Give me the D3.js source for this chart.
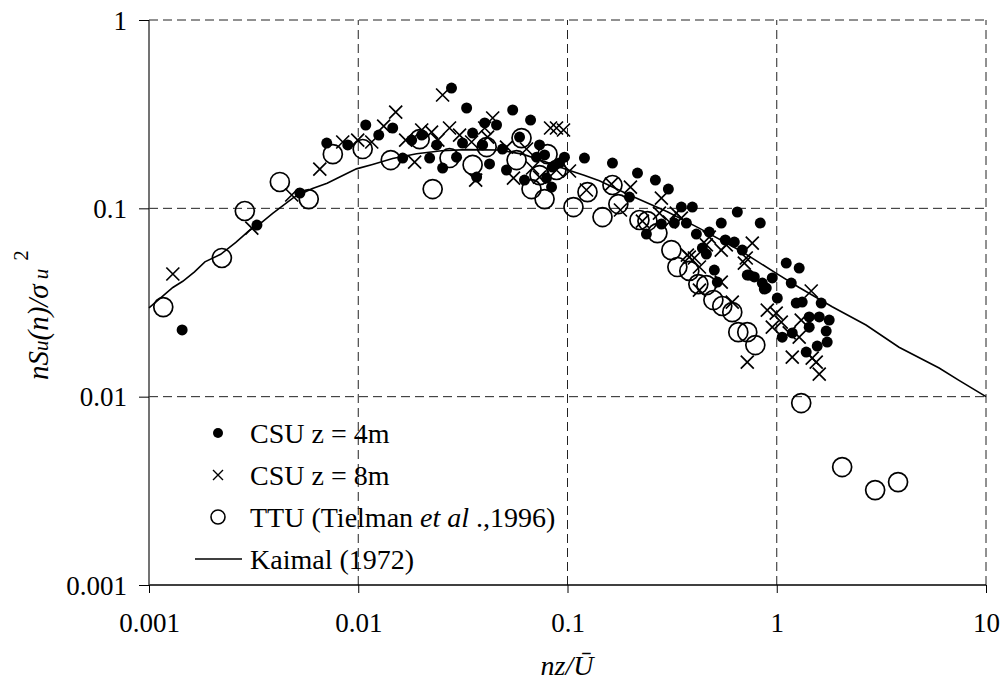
<!DOCTYPE html>
<html>
<head>
<meta charset="utf-8">
<script src="https://cdn.jsdelivr.net/npm/d3@7"></script>
<style>
  html, body { margin: 0; padding: 0; background: #fff; }
  svg { display: block; }
  text { font-family: "Liberation Serif", "Times New Roman", serif; fill: #000; }
</style>
</head>
<body>
<svg id="chart" width="1007" height="684"></svg>
<script>
// Normalized longitudinal velocity spectra vs. reduced frequency nz/U
const xTicks = [0.001, 0.01, 0.1, 1, 10];
const yTicks = [0.001, 0.01, 0.1, 1];
const xTickLabels = ["0.001", "0.01", "0.1", "1", "10"];
const yTickLabels = ["0.001", "0.01", "0.1", "1"];

// CSU z = 4m  [nz/U, nSu/σu²]
const csu4m = [
  [0.00144,0.0226],[0.00328,0.0815],[0.00526,0.1206],[0.00707,0.222],[0.00891,0.217],
  [0.01086,0.277],[0.01253,0.245],[0.01461,0.267],[0.01631,0.185],[0.0180,0.2305],
  [0.0201,0.245],[0.02194,0.185],[0.0237,0.217],[0.0253,0.1637],[0.0279,0.435],
  [0.0295,0.187],[0.0315,0.222],[0.03296,0.341],[0.0352,0.251],[0.0368,0.1466],
  [0.0402,0.284],[0.0458,0.277],[0.0393,0.217],[0.0424,0.172],[0.0489,0.2065],
  [0.0511,0.1598],[0.0547,0.3327],[0.059,0.239],[0.0623,0.1413],[0.0666,0.2944],
  [0.0735,0.217],[0.0711,0.187],[0.0777,0.192],[0.0848,0.1657],[0.0794,0.1448],
  [0.0839,0.1297],[0.0916,0.174],[0.0967,0.187],[0.1205,0.185],[0.164,0.174],
  [0.216,0.154],[0.263,0.1413],[0.3034,0.1266],[0.350,0.1016],[0.395,0.1016],
  [0.1977,0.1148],[0.2383,0.073],[0.281,0.0825],[0.324,0.0835],[0.370,0.0835],
  [0.413,0.073],[0.648,0.0956],[0.543,0.0835],[0.834,0.0835],[0.476,0.0748],
  [0.441,0.0615],[0.461,0.0572],[0.568,0.0679],[0.627,0.0662],[0.684,0.060],
  [0.723,0.0442],[0.781,0.0432],[0.853,0.0401],[0.952,0.0427],[0.891,0.0377],
  [1.110,0.0512],[1.280,0.0482],[0.503,0.047],[0.520,0.0406],[1.006,0.0334],
  [1.173,0.0401],[1.239,0.0314],[1.323,0.0318],[1.631,0.0314],[1.429,0.0265],
  [1.596,0.0265],[1.781,0.0255],[1.429,0.0234],[1.723,0.0223],[1.062,0.0207],
  [1.186,0.0218],[1.383,0.01726],[1.561,0.01857],[1.742,0.0195],[0.872,0.0373],
  [0.739,0.0442]
];

// CSU z = 8m
const csu8m = [
  [0.0013,0.0448],[0.0031,0.0786],[0.00481,0.1177],[0.00655,0.1617],[0.00843,0.225],
  [0.00994,0.2305],[0.0116,0.225],[0.01323,0.2735],[0.0151,0.3246],[0.01685,0.2305],
  [0.0186,0.176],[0.0201,0.2605],[0.0224,0.254],[0.0253,0.3997],[0.024,0.2305],
  [0.0273,0.267],[0.0305,0.245],[0.0364,0.1413],[0.0439,0.3017],[0.0415,0.239],
  [0.0348,0.225],[0.0511,0.2116],[0.0552,0.1448],[0.0637,0.2065],[0.0681,0.1637],
  [0.0830,0.267],[0.0886,0.267],[0.0957,0.2605],[0.0735,0.1466],[0.0886,0.1598],
  [0.0402,0.267],[0.1022,0.1578],[0.1232,0.1251],[0.1622,0.1346],[0.1999,0.1297],
  [0.179,0.098],[0.281,0.1134],[0.228,0.0856],[0.307,0.0846],[0.275,0.0944],
  [0.331,0.0944],[0.350,0.0888],[0.476,0.0704],[0.574,0.0639],[0.764,0.0654],
  [0.700,0.0512],[0.374,0.0565],[0.404,0.0545],[0.427,0.0488],[0.461,0.0639],
  [0.543,0.060],[0.543,0.0406],[0.427,0.0368],[0.613,0.0318],[0.723,0.01527],
  [0.901,0.0288],[0.994,0.0278],[0.952,0.0234],[1.051,0.0249],[1.147,0.0218],
  [1.280,0.0207],[1.186,0.01623],[1.461,0.0364],[1.477,0.01603],[1.544,0.01527],
  [1.596,0.01318],[0.715,0.0545],[1.309,0.0255],[0.382,0.0551]
];

// TTU (Tielman et al., 1996)
const ttu = [
  [0.00117,0.0299],[0.00223,0.0545],[0.00287,0.0968],[0.00422,0.138],[0.0058,0.112],
  [0.00756,0.194],[0.0105,0.2065],[0.0143,0.1805],[0.01966,0.233],[0.02268,0.1266],
  [0.0273,0.185],[0.0352,0.170],[0.0411,0.2116],[0.0571,0.1805],[0.0603,0.236],
  [0.0673,0.1266],[0.0735,0.1502],[0.0777,0.112],[0.0803,0.194],[0.0886,0.1598],
  [0.1068,0.1016],[0.1246,0.122],[0.147,0.0899],[0.164,0.133],[0.175,0.1054],
  [0.2207,0.0867],[0.241,0.0856],[0.269,0.0739],[0.3137,0.060],[0.335,0.0488],
  [0.382,0.0465],[0.422,0.0396],[0.461,0.0391],[0.498,0.0326],[0.549,0.0303],
  [0.613,0.0281],[0.655,0.022],[0.723,0.022],[0.790,0.0188],[1.309,0.00925],
  [2.054,0.00423],[2.953,0.00319],[3.80,0.00352]
];

// Kaimal (1972) spectrum curve
const kaimal = [
  [0.001,0.0296],[0.0013,0.038],[0.00145,0.041],[0.00165,0.046],[0.00185,0.052],
  [0.0022,0.057],[0.0026,0.066],[0.003,0.076],[0.0034,0.083],[0.0039,0.094],
  [0.0049,0.114],[0.006,0.127],[0.0071,0.136],[0.0082,0.147],[0.0098,0.162],
  [0.0117,0.171],[0.0146,0.184],[0.019,0.195],[0.025,0.202],[0.033,0.205],
  [0.047,0.204],[0.061,0.194],[0.079,0.176],[0.099,0.161],[0.12,0.150],
  [0.142,0.140],[0.2,0.117],[0.3,0.096],[0.43,0.078],[0.68,0.059],[1.0,0.045],
  [1.28,0.038],[1.84,0.030],[2.67,0.024],[3.84,0.0183],[5.97,0.0142],
  [7.43,0.0122],[10,0.010]
];

const legendItems = ["CSU z = 4m", "CSU z = 8m", "TTU", "Kaimal (1972)"];

const svg = d3.select("#chart");
const plot = { left: 149, right: 986, top: 20, bottom: 585 };

const x = d3.scaleLog().domain([0.001, 10]).range([plot.left, plot.right]);
const y = d3.scaleLog().domain([0.001, 1]).range([plot.bottom, plot.top]);

// dashed grid at each decade
const grid = svg.append("g").attr("stroke", "#222").attr("stroke-width", 1)
  .attr("stroke-dasharray", "9,5").attr("fill", "none");
grid.selectAll("line.vx").data(xTicks.slice(1)).join("line")
  .attr("x1", d => x(d)).attr("x2", d => x(d))
  .attr("y1", plot.bottom).attr("y2", plot.top);
grid.selectAll("line.hy").data(yTicks.slice(1)).join("line")
  .attr("x1", plot.left).attr("x2", plot.right)
  .attr("y1", d => y(d)).attr("y2", d => y(d));

// axes
const xAxis = d3.axisBottom(x).tickValues(xTicks)
  .tickFormat((d, i) => xTickLabels[i]).tickSize(8).tickSizeOuter(0);
const yAxis = d3.axisLeft(y).tickValues(yTicks)
  .tickFormat((d, i) => yTickLabels[i]).tickSize(10).tickSizeOuter(0);

const gx = svg.append("g").attr("transform", `translate(0,${plot.bottom})`).call(xAxis);
gx.select(".domain").attr("stroke", "#000").attr("stroke-width", 1.5)
  .attr("d", `M${plot.left},0H${plot.right}`);
gx.selectAll(".tick line").attr("stroke", "#000").attr("stroke-width", 1);
gx.selectAll(".tick text").attr("font-size", 27).attr("dy", null).attr("y", 47)
  .style("font-family", "Liberation Serif, serif");

const gy = svg.append("g").attr("transform", `translate(${plot.left},0)`).call(yAxis);
gy.select(".domain").attr("stroke", "#444").attr("stroke-width", 1.5)
  .attr("d", `M0,${plot.top}V${plot.bottom}`);
gy.selectAll(".tick line").attr("stroke", "#000").attr("stroke-width", 1);
gy.selectAll(".tick text").attr("font-size", 27).attr("x", -22).attr("dy", "0.34em")
  .style("font-family", "Liberation Serif, serif");

// TTU open circles
svg.append("g").selectAll("circle").data(ttu).join("circle")
  .attr("cx", d => x(d[0])).attr("cy", d => y(d[1])).attr("r", 9.5)
  .attr("fill", "none").attr("stroke", "#000").attr("stroke-width", 1.7);

// CSU 8m crosses
const cross = (g, s) => g.append("path")
  .attr("d", `M${-s},${-s}L${s},${s}M${-s},${s}L${s},${-s}`)
  .attr("stroke", "#000").attr("stroke-width", 1.7).attr("fill", "none");
svg.append("g").selectAll("g").data(csu8m).join("g")
  .attr("transform", d => `translate(${x(d[0])},${y(d[1])})`)
  .each(function () { cross(d3.select(this), 6.5); });

// CSU 4m filled dots
svg.append("g").selectAll("circle").data(csu4m).join("circle")
  .attr("cx", d => x(d[0])).attr("cy", d => y(d[1])).attr("r", 5.5)
  .attr("fill", "#000");

// Kaimal curve
const line = d3.line().x(d => x(d[0])).y(d => y(d[1]));
svg.append("path").datum(kaimal).attr("d", line)
  .attr("fill", "none").attr("stroke", "#000").attr("stroke-width", 1.6);

// legend
const leg = svg.append("g");
const rowY = [433, 475, 517, 559];
const mx = 218, tx = 250;
leg.append("circle").attr("cx", mx).attr("cy", rowY[0]).attr("r", 5).attr("fill", "#000");
cross(leg.append("g").attr("transform", `translate(${mx},${rowY[1]})`), 5).attr("stroke-width", 1.4);
leg.append("circle").attr("cx", mx).attr("cy", rowY[2]).attr("r", 7)
  .attr("fill", "none").attr("stroke", "#000").attr("stroke-width", 1.6);
leg.append("line").attr("x1", 195).attr("x2", 242).attr("y1", rowY[3]).attr("y2", rowY[3])
  .attr("stroke", "#000").attr("stroke-width", 1.6);

const legText = (i) => leg.append("text").attr("x", tx).attr("y", rowY[i])
  .attr("dy", "0.34em").attr("font-size", 28);
legText(0).text(legendItems[0]);
legText(1).text(legendItems[1]);
const t3 = legText(2);
t3.append("tspan").text(legendItems[2] + " (Tielman ");
t3.append("tspan").attr("font-style", "italic").text("et  al");
t3.append("tspan").text(" .,1996)");
legText(3).text(legendItems[3]);

// axis titles
svg.append("text").attr("x", 567).attr("y", 675)
  .attr("text-anchor", "middle").attr("font-size", 28).attr("font-style", "italic")
  .text("nz/Ū");

const yt = svg.append("text").attr("transform", "translate(48,380) rotate(-90)")
  .attr("text-anchor", "start").attr("font-size", 29).attr("font-style", "italic");
yt.append("tspan").text("nS");
yt.append("tspan").attr("font-size", 21).text("u");
yt.append("tspan").text("(n)/σ");
yt.append("tspan").attr("font-size", 21).attr("dx", 5).text("u");
yt.append("tspan").attr("font-size", 21).attr("font-style", "normal")
  .attr("dx", 8).attr("dy", -20).text("2");
</script>
</body>
</html>
